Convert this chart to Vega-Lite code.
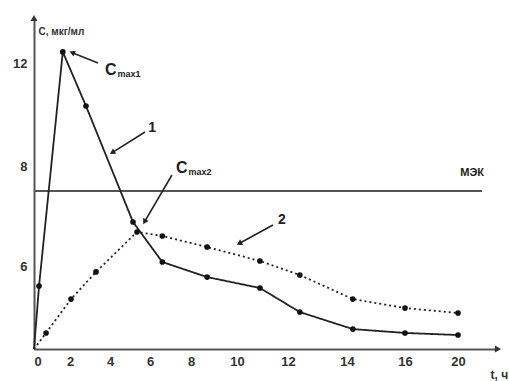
{
  "$schema": "https://vega.github.io/schema/vega-lite/v6.json",
  "autosize": "none",
  "width": 464,
  "height": 331,
  "padding": {"left": 34, "top": 18, "right": 11, "bottom": 32},
  "background": "white",
  "config": {
    "view": {"stroke": null},
    "font": "Liberation Sans Narrow, Liberation Sans, sans-serif"
  },
  "datasets": {
    "curves": [
      {"series": "1", "t": 0, "c": 0},
      {"series": "1", "t": 0.28, "c": 4.55},
      {"series": "1", "t": 1.6, "c": 12.43},
      {"series": "1", "t": 2.8, "c": 10.33},
      {"series": "1", "t": 5.15, "c": 6.88},
      {"series": "1", "t": 6.6, "c": 6.08},
      {"series": "1", "t": 8.7, "c": 5.2},
      {"series": "1", "t": 10.9, "c": 4.41},
      {"series": "1", "t": 12.4, "c": 2.67},
      {"series": "1", "t": 14.2, "c": 1.44},
      {"series": "1", "t": 16, "c": 1.16},
      {"series": "1", "t": 20, "c": 1.01},
      {"series": "2", "t": 0, "c": 0},
      {"series": "2", "t": 0.67, "c": 1.16},
      {"series": "2", "t": 2.05, "c": 3.61},
      {"series": "2", "t": 3.3, "c": 5.57},
      {"series": "2", "t": 5.35, "c": 6.68},
      {"series": "2", "t": 6.6, "c": 6.6},
      {"series": "2", "t": 8.7, "c": 6.38},
      {"series": "2", "t": 10.9, "c": 6.1},
      {"series": "2", "t": 12.4, "c": 5.35},
      {"series": "2", "t": 14.2, "c": 3.61},
      {"series": "2", "t": 16, "c": 2.96},
      {"series": "2", "t": 20, "c": 2.6}
    ],
    "arrows": [
      {"id": "a1", "t": 3.4, "c": 12.0, "t2": 2.15, "c2": 12.39},
      {"id": "a2", "t": 5.75, "c": 9.32, "t2": 4.15, "c2": 8.54},
      {"id": "a3", "t": 7.07, "c": 7.82, "t2": 5.75, "c2": 6.9},
      {"id": "a4", "t": 11.41, "c": 6.82, "t2": 10.12, "c2": 6.46}
    ],
    "bigText": [
      {"label": "C", "t": 3.75, "c": 11.73},
      {"label": "C", "t": 7.27, "c": 7.96}
    ],
    "subText": [
      {"label": "max1", "t": 4.38, "c": 11.58},
      {"label": "max2", "t": 7.88, "c": 7.88}
    ],
    "numText": [
      {"label": "1", "t": 6.1, "c": 9.48},
      {"label": "2", "t": 11.76, "c": 6.92}
    ]
  },
  "encoding": {
    "x": {
      "field": "t",
      "type": "quantitative",
      "scale": {
        "domain": [0, 2, 4, 6, 8, 10, 12, 14, 16, 20, 21.1],
        "range": [0, 36, 76, 116, 157, 203, 254, 313, 371, 424, 464],
        "zero": false,
        "nice": false
      },
      "axis": {
        "values": [0, 2, 4, 6, 8, 10, 12, 14, 16, 20],
        "ticks": false,
        "grid": false,
        "domainColor": "#555",
        "domainWidth": 2,
        "labelFontSize": 13,
        "labelFontWeight": "bold",
        "labelColor": "#333",
        "labelPadding": 6,
        "title": "t, ч",
        "titleX": 456,
        "titleY": 29,
        "titleAlign": "left",
        "titleBaseline": "alphabetic",
        "titleFontSize": 12,
        "titleFontWeight": "bold",
        "titleColor": "#333"
      }
    },
    "y": {
      "field": "c",
      "type": "quantitative",
      "scale": {
        "domain": [0, 6, 8, 12, 13.75],
        "range": [331, 248, 148, 45, 0],
        "zero": false,
        "nice": false
      },
      "axis": {
        "values": [6, 8, 12],
        "ticks": false,
        "grid": false,
        "domainColor": "#555",
        "domainWidth": 2,
        "labelFontSize": 13,
        "labelFontWeight": "bold",
        "labelColor": "#333",
        "labelPadding": 7,
        "title": "C, мкг/мл",
        "titleAngle": 0,
        "titleX": 4,
        "titleY": 16,
        "titleAlign": "left",
        "titleBaseline": "alphabetic",
        "titleFontSize": 10,
        "titleFontWeight": "bold",
        "titleColor": "#333"
      }
    }
  },
  "layer": [
    {
      "data": {"values": [{"t": 0, "c": 7.5, "t2": 20.66}]},
      "mark": {"type": "rule", "color": "#555", "strokeWidth": 2},
      "encoding": {"x2": {"field": "t2"}}
    },
    {
      "data": {"name": "curves"},
      "mark": {"type": "line", "color": "#222", "strokeWidth": 1.8},
      "encoding": {
        "detail": {"field": "series"},
        "strokeDash": {
          "field": "series",
          "type": "nominal",
          "scale": {"domain": ["1", "2"], "range": [[1, 0], [2, 3]]},
          "legend": null
        }
      }
    },
    {
      "data": {"name": "curves"},
      "transform": [{"filter": "datum.t > 0"}],
      "mark": {"type": "point", "filled": true, "color": "#111", "size": 32, "opacity": 1}
    },
    {
      "data": {"name": "arrows"},
      "mark": {"type": "rule", "color": "#222", "strokeWidth": 1.5},
      "encoding": {"x2": {"field": "t2"}, "y2": {"field": "c2"}}
    },
    {
      "data": {"name": "arrows"},
      "transform": [{"filter": "datum.id === 'a1'"}],
      "mark": {"type": "point", "shape": "triangle", "filled": true, "color": "#222", "size": 40, "angle": 292, "opacity": 1},
      "encoding": {"x": {"field": "t2", "type": "quantitative"}, "y": {"field": "c2", "type": "quantitative"}}
    },
    {
      "data": {"name": "arrows"},
      "transform": [{"filter": "datum.id === 'a2'"}],
      "mark": {"type": "point", "shape": "triangle", "filled": true, "color": "#222", "size": 40, "angle": 238, "opacity": 1},
      "encoding": {"x": {"field": "t2", "type": "quantitative"}, "y": {"field": "c2", "type": "quantitative"}}
    },
    {
      "data": {"name": "arrows"},
      "transform": [{"filter": "datum.id === 'a3'"}],
      "mark": {"type": "point", "shape": "triangle", "filled": true, "color": "#222", "size": 40, "angle": 210, "opacity": 1},
      "encoding": {"x": {"field": "t2", "type": "quantitative"}, "y": {"field": "c2", "type": "quantitative"}}
    },
    {
      "data": {"name": "arrows"},
      "transform": [{"filter": "datum.id === 'a4'"}],
      "mark": {"type": "point", "shape": "triangle", "filled": true, "color": "#222", "size": 40, "angle": 241, "opacity": 1},
      "encoding": {"x": {"field": "t2", "type": "quantitative"}, "y": {"field": "c2", "type": "quantitative"}}
    },
    {
      "data": {"values": [{"t": 21.1, "c": 0}]},
      "mark": {"type": "point", "shape": "triangle-right", "filled": true, "color": "#333", "size": 50, "opacity": 1}
    },
    {
      "data": {"values": [{"t": 0, "c": 13.75}]},
      "mark": {"type": "point", "shape": "triangle-up", "filled": true, "color": "#333", "size": 50, "opacity": 1}
    },
    {
      "data": {"name": "bigText"},
      "mark": {"type": "text", "align": "left", "baseline": "middle", "fontSize": 16, "fontWeight": "bold", "color": "#222"},
      "encoding": {"text": {"field": "label"}}
    },
    {
      "data": {"name": "subText"},
      "mark": {"type": "text", "align": "left", "baseline": "middle", "fontSize": 9, "fontWeight": "bold", "color": "#222"},
      "encoding": {"text": {"field": "label"}}
    },
    {
      "data": {"name": "numText"},
      "mark": {"type": "text", "align": "center", "baseline": "middle", "fontSize": 14, "fontWeight": "bold", "color": "#222"},
      "encoding": {"text": {"field": "label"}}
    },
    {
      "data": {"values": [{"label": "МЭК", "t": 20.39, "c": 7.86}]},
      "mark": {"type": "text", "align": "center", "baseline": "middle", "fontSize": 11, "fontWeight": "bold", "color": "#222"},
      "encoding": {"text": {"field": "label"}}
    }
  ]
}
